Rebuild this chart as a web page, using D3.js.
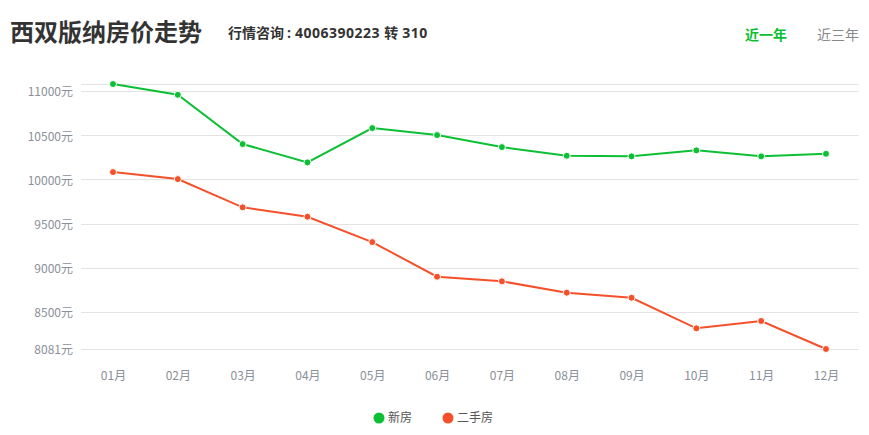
<!DOCTYPE html>
<html><head><meta charset="utf-8">
<script src="https://cdn.jsdelivr.net/npm/d3@7"></script>
<style>
body{margin:0;background:#fff;}
svg{display:block;font-family:"Open Sans","Noto Sans CJK SC",sans-serif;}
</style></head>
<body><svg id="c" width="869" height="435"></svg>
<script>
const months = ["01月","02月","03月","04月","05月","06月","07月","08月","09月","10月","11月","12月"];
const newHouse = [11080,10958,10400,10193,10581,10502,10366,10268,10261,10329,10261,10290];
const secondHand = [10083,10004,9684,9578,9291,8899,8847,8718,8661,8315,8398,8081];
const yTicks = [8081,8500,9000,9500,10000,10500,11000];
const seriesNames = ["新房","二手房"];
const colors = ["#0dbf35","#f5502a"];

(function(){
const svg = d3.select("#c");
const cjk = "'Noto Sans CJK SC',sans-serif";
const pLeft = 81, pRight = 859, pTop = 84, pBottom = 349;
const allVals = newHouse.concat(secondHand);
const y = d3.scaleLinear().domain([d3.min(allVals), d3.max(allVals)]).range([pBottom, pTop]);
const x = d3.scalePoint().domain(months).range([113, 826]);

// title
svg.append("text").attr("x",10).attr("y",41).attr("font-size",24).attr("font-weight","bold")
  .attr("fill","#333").attr("font-family",cjk).text("西双版纳房价走势");
const sub = svg.append("text").attr("x",228).attr("y",38).attr("font-size",14).attr("font-weight","bold").attr("fill","#333");
sub.append("tspan").attr("font-family",cjk).text("行情咨询");
sub.append("tspan").attr("dx",3).text(":");
sub.append("tspan").attr("dx",4).attr("letter-spacing",0.5).text("4006390223 ");
sub.append("tspan").attr("font-family",cjk).text("转");
sub.append("tspan").attr("letter-spacing",0.5).text(" 310");
svg.append("text").attr("x",745).attr("y",40).attr("font-size",14).attr("font-weight","bold")
  .attr("fill","#0dbf35").attr("font-family",cjk).text("近一年");
svg.append("text").attr("x",817).attr("y",40).attr("font-size",14)
  .attr("fill","#888").attr("font-family",cjk).text("近三年");

// grid
const gridVals = yTicks.concat([d3.max(allVals)]);
svg.append("g").selectAll("line").data(gridVals).join("line")
  .attr("x1",pLeft).attr("x2",pRight).attr("y1",d=>Math.round(y(d))+0.5).attr("y2",d=>Math.round(y(d))+0.5)
  .attr("stroke","#e3e3e3").attr("stroke-width",1);

// y axis
const yAxis = d3.axisLeft(y).tickValues(yTicks).tickSize(0).tickPadding(0).tickFormat(d=>d+"元");
const ya = svg.append("g").attr("transform","translate(73,1)").call(yAxis);
ya.select(".domain").remove();
ya.selectAll("text").attr("fill","#8a9099").attr("font-size",12).attr("font-family",cjk);

// x axis
const xAxis = d3.axisBottom(x).tickSize(0).tickPadding(0);
const xa = svg.append("g").attr("transform","translate(0,371)").call(xAxis);
xa.select(".domain").remove();
xa.selectAll("text").attr("fill","#8a9099").attr("font-size",12).attr("font-family",cjk);

// lines
const line = d3.line().x((d,i)=>x(months[i])).y(d=>y(d));
[newHouse, secondHand].forEach((s,k)=>{
  svg.append("path").datum(s).attr("d",line).attr("fill","none").attr("stroke",colors[k]).attr("stroke-width",2);
  svg.append("g").selectAll("circle").data(s).join("circle")
    .attr("cx",(d,i)=>x(months[i])).attr("cy",d=>y(d)).attr("r",3.5)
    .attr("fill",colors[k]).attr("stroke","#fff").attr("stroke-width",1);
});

// legend
const lg = svg.append("g");
const lx = [379,448];
seriesNames.forEach((n,k)=>{
  lg.append("circle").attr("cx",lx[k]).attr("cy",418).attr("r",5.5).attr("fill",colors[k]);
  lg.append("text").attr("x",lx[k]+9).attr("y",422).attr("font-size",12).attr("fill","#555")
    .attr("font-family",cjk).text(n);
});
})();
</script></body></html>
